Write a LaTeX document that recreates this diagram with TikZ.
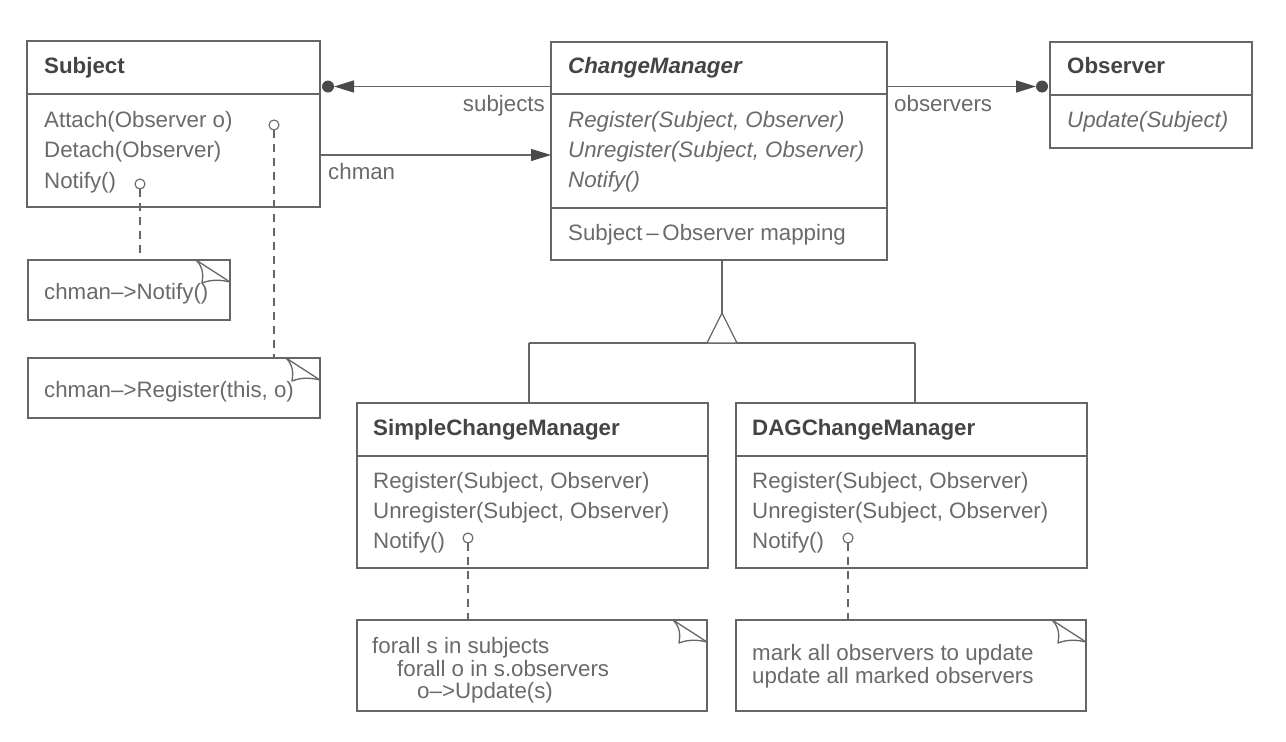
\documentclass[tikz,border=0pt]{standalone}
\usepackage{fontspec}
\setmainfont{Liberation Sans}
\usetikzlibrary{arrows.meta}
\definecolor{lc}{HTML}{666666}
\definecolor{ac}{HTML}{4A4A4A}
\definecolor{tc}{HTML}{6A6A6A}
\definecolor{hc}{HTML}{444444}
\tikzset{
  cls/.style={draw=lc, line width=1.3pt, inner sep=0pt, outer sep=0pt, anchor=north west},
  notebg/.style={inner sep=0pt, outer sep=0pt, anchor=north west},
  txt/.style={anchor=base west, inner sep=0pt, text=tc, font=\fontsize{22.3}{26}\selectfont},
  ttl/.style={anchor=base west, inner sep=0pt, text=hc, font=\fontsize{22.3}{26}\selectfont\bfseries},
  ittl/.style={anchor=base west, inner sep=0pt, text=hc, font=\fontsize{22.3}{26}\selectfont\bfseries\itshape},
  itxt/.style={txt, font=\fontsize{22.3}{26}\selectfont\itshape},
  ln/.style={draw=lc, line width=1.3pt},
  arr/.style={ln, -{Triangle[length=20pt,width=12pt,color=ac]}},
  dot/.style={circle, fill=ac, inner sep=0pt, outer sep=0pt, minimum size=12pt},
  hole/.style={circle, draw=lc, line width=1.1pt, fill=white, inner sep=0pt, outer sep=0pt, minimum size=10pt},
  dsh/.style={ln, dash pattern=on 8pt off 6pt},
}
\newcommand\notebox[1]{%
  \draw[ln] (#1.north west) rectangle (#1.south east);
  \draw[ln, line join=round] ([xshift=-34pt]#1.north east) -- ([yshift=-22pt]#1.north east);
  \draw[ln, line join=round] ([xshift=-34pt]#1.north east) .. controls ([xshift=-26pt,yshift=-8pt]#1.north east) and ([xshift=-27pt,yshift=-16pt]#1.north east) .. ([xshift=-28pt,yshift=-23pt]#1.north east) .. controls ([xshift=-18pt,yshift=-19pt]#1.north east) and ([xshift=-8pt,yshift=-20pt]#1.north east) .. ([yshift=-22pt]#1.north east);}
\begin{document}
\begin{tikzpicture}[x=1pt, y=-1pt]
\useasboundingbox (0,0) rectangle (1286,742);

% ---------- Subject ----------
\node[cls, minimum width=293pt, minimum height=166pt] (subj) at (27,41) {};
\draw[ln] (subj.west |- 0,94) -- (subj.east |- 0,94);
\node[ttl] (subjT) at (44,73) {Subject};
\node[txt] (subjA) at (44,127) {Attach(Observer o)};
\node[txt] (subjD) at (44,157.5) {Detach(Observer)};
\node[txt] (subjN) at (44,188) {Notify()};
\node[hole] (hA) at (274,125) {};
\node[hole] (hN) at (140,184) {};

% notes of Subject
\node[notebg, minimum width=202pt, minimum height=60pt] (n1) at (28,260) {};
\notebox{n1}
\node[txt] (n1t) at (44,299) {chman–>Notify()};
\node[notebg, minimum width=292pt, minimum height=60pt] (n2) at (28,358) {};
\notebox{n2}
\node[txt] (n2t) at (44,397) {chman–>Register(this, o)};
\draw[dsh] (hN.south) -- (hN.south |- n1.north);
\draw[dsh] (hA.south) -- (hA.south |- n2.north);

% ---------- ChangeManager ----------
\node[cls, minimum width=336pt, minimum height=218pt] (cm) at (551,42) {};
\draw[ln] (cm.west |- 0,94) -- (cm.east |- 0,94);
\draw[ln] (cm.west |- 0,208) -- (cm.east |- 0,208);
\node[ittl] (cmT) at (568,73) {ChangeManager};
\node[itxt] (cmR) at (568,127) {Register(Subject, Observer)};
\node[itxt] (cmU) at (568,157) {Unregister(Subject, Observer)};
\node[itxt] (cmN) at (568,187) {Notify()};
\node[txt] (cmM) at (568,240) {Subject\,–\,Observer mapping};

% ---------- Observer ----------
\node[cls, minimum width=202pt, minimum height=106pt] (obs) at (1050,42) {};
\draw[ln] (obs.west |- 0,95) -- (obs.east |- 0,95);
\node[ttl] (obsT) at (1067,73) {Observer};
\node[itxt] (obsU) at (1067,127) {Update(Subject)};

% ---------- associations ----------
\node[dot] (sdot) at (328,86.5) {};
\draw[arr] (cm.west |- sdot) -- (sdot.east);
\node[txt, anchor=base east] (lsub) at (545,111) {subjects};

\node[dot] (odot) at (1042,86.5) {};
\draw[arr] (cm.east |- odot) -- (odot.west);
\node[txt] (lobs) at (894,111) {observers};

\draw[arr] (subj.east |- 0,155) -- (cm.west |- 0,155);
\node[txt] (lch) at (328,179) {chman};

% ---------- subclasses ----------
\node[cls, minimum width=351pt, minimum height=165pt] (scm) at (357,403) {};
\draw[ln] (scm.west |- 0,456) -- (scm.east |- 0,456);
\node[ttl] (scmT) at (373,435) {SimpleChangeManager};
\node[txt] (scmR) at (373,488) {Register(Subject, Observer)};
\node[txt] (scmU) at (373,518) {Unregister(Subject, Observer)};
\node[txt] (scmN) at (373,548) {Notify()};
\node[hole] (hS) at (468,538) {};

\node[cls, minimum width=351pt, minimum height=165pt] (dag) at (736,403) {};
\draw[ln] (dag.west |- 0,456) -- (dag.east |- 0,456);
\node[ttl] (dagT) at (752,435) {DAGChangeManager};
\node[txt] (dagR) at (752,488) {Register(Subject, Observer)};
\node[txt] (dagU) at (752,518) {Unregister(Subject, Observer)};
\node[txt] (dagN) at (752,548) {Notify()};
\node[hole] (hD) at (848,538) {};

% inheritance
\coordinate (apex) at (722,313);
\coordinate (j1) at (529,343);
\coordinate (j2) at (915,343);
\draw[ln] (apex |- cm.south) -- (apex);
\draw[ln] (j1) -- (j2);
\draw[ln] (j1) -- (j1 |- scm.north);
\draw[ln] (j2) -- (j2 |- dag.north);
\draw[ln, fill=white, line join=round] (apex) -- ++(-15,30) -- ++(30,0) -- cycle;

% notes of subclasses
\node[notebg, minimum width=350pt, minimum height=91pt] (n3) at (357,620) {};
\notebox{n3}
\node[txt] (n3a) at (372,653) {forall s in subjects};
\node[txt] (n3b) at (397,676) {forall o in s.observers};
\node[txt] (n3c) at (417,698) {o–>Update(s)};
\draw[dsh] (hS.south) -- (hS.south |- n3.north);

\node[notebg, minimum width=350pt, minimum height=91pt] (n4) at (736,620) {};
\notebox{n4}
\node[txt] (n4a) at (752,660) {mark all observers to update};
\node[txt] (n4b) at (752,683) {update all marked observers};
\draw[dsh] (hD.south) -- (hD.south |- n4.north);
\end{tikzpicture}
\end{document}
